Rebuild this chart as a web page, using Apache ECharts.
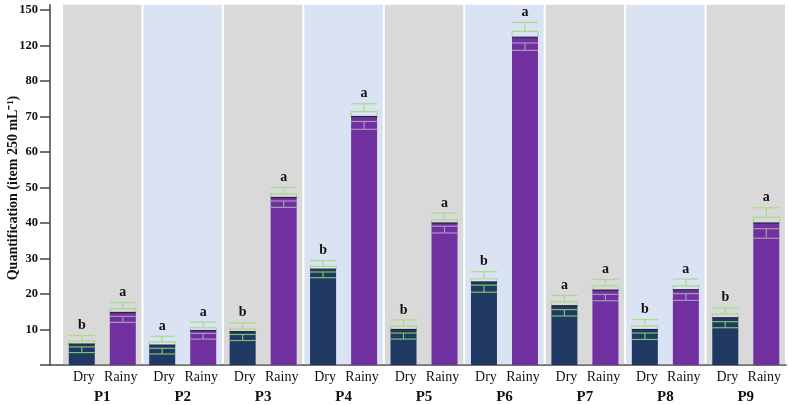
<!DOCTYPE html>
<html><head><meta charset="utf-8">
<script src="https://cdn.jsdelivr.net/npm/echarts@6/dist/echarts.min.js"></script>
<style>html,body{margin:0;padding:0;background:#fff}#c{width:789px;height:405px}</style>
</head><body><div id="c"></div>
<script>
const sites = ['P1','P2','P3','P4','P5','P6','P7','P8','P9'];
const seasons = ['Dry','Rainy'];
const dryMean  = [5.9, 5.6, 9.4, 27.0, 10.0, 23.4, 16.7, 10.0, 13.3];
const drySE    = [0.8, 0.9, 0.8, 0.8, 1.0, 0.9, 1.1, 1.0, 1.1];
const drySD    = [2.4, 2.5, 2.5, 2.4, 2.7, 2.9, 2.9, 2.8, 2.8];
const rainyMean= [14.8, 9.7, 47.2, 70.0, 40.0, 127.0, 21.1, 21.2, 40.0];
const rainySE  = [1.1, 0.8, 1.0, 1.4, 0.9, 4.9, 1.2, 1.1, 1.6];
const rainySD  = [2.8, 2.4, 2.8, 3.6, 2.8, 12.5, 3.0, 3.0, 4.3];
const dryLetters   = ['b','a','b','b','b','b','a','b','b'];
const rainyLetters = ['a','a','a','a','a','a','a','a','a'];
const yTickValues = [0,10,20,30,40,50,60,70,80,120,150];
const yTitle = 'Quantification (item 250 mL\u207B\u00B9)';

// broken (piecewise) y-axis: each tick label occupies one equal step
function toAxis(v){
  for (let k = 1; k < yTickValues.length; k++){
    const a = yTickValues[k-1], b = yTickValues[k];
    if (v <= b || k === yTickValues.length-1) return (k-1) + (v - a)/(b - a);
  }
}
const tickPos = yTickValues.map(toAxis);

const FONT = '"Liberation Serif","Times New Roman",serif';
const bandColors = ['#d9d9d9','#dae3f3'];

function makeData(mean, se, sd, letters){
  return mean.map((m,i)=>[i, toAxis(m), toAxis(m-se[i]), toAxis(m+se[i]), toAxis(m-sd[i]), toAxis(m+sd[i]), letters[i]]);
}

function barRender(offsetFrac, fill, lowColor){
  return function(params, api){
    const i = api.value(0);
    const bw = api.size([1,0])[0];
    const cx = api.coord([i,0])[0] + offsetFrac*bw;
    const w = 26;
    const x0 = cx - w/2;
    const y0 = api.coord([i,0])[1];
    const ym = api.coord([i,api.value(1)])[1];
    const yl = api.coord([i,api.value(2)])[1];
    const yh = api.coord([i,api.value(3)])[1];
    const ysl = api.coord([i,api.value(4)])[1];
    const ysh = api.coord([i,api.value(5)])[1];
    const green = '#a6dc88';
    const ls = (c)=>({stroke:c, lineWidth:1.2, fill:null});
    return {type:'group', children:[
      {type:'rect', shape:{x:x0, y:ym, width:w, height:y0-ym}, style:{fill:fill}},
      {type:'polyline', shape:{points:[[x0,ym],[x0,yh],[x0+w,yh],[x0+w,ym]]}, style:ls(green)},
      {type:'line', shape:{x1:cx, y1:yh, x2:cx, y2:ysh}, style:ls(green)},
      {type:'line', shape:{x1:x0, y1:ysh, x2:x0+w, y2:ysh}, style:ls(green)},
      {type:'line', shape:{x1:x0, y1:ym, x2:x0+w, y2:ym}, style:{stroke:'#2b2240', lineWidth:1.2}},
      {type:'line', shape:{x1:x0, y1:yl, x2:x0+w, y2:yl}, style:ls(lowColor)},
      {type:'line', shape:{x1:cx, y1:yl, x2:cx, y2:ysl}, style:ls(lowColor)},
      {type:'line', shape:{x1:x0, y1:ysl, x2:x0+w, y2:ysl}, style:ls(lowColor)},
      {type:'text', style:{x:cx, y:ysh-3, text:api.value(6), align:'center', verticalAlign:'bottom',
        fontFamily:FONT, fontWeight:'bold', fontSize:14, fill:'#111'}}
    ]};
  };
}

const chart = echarts.init(document.getElementById('c'));
chart.setOption({
  animation:false,
  grid:{left:50, right:3, top:4.7, bottom:40, containLabel:false, outerBoundsMode:'none'},
  graphic:[{type:'text', x:13, y:188, rotation:Math.PI/2,
    style:{text:yTitle, align:'center', verticalAlign:'middle', fontFamily:FONT, fontWeight:'bold', fontSize:14, fill:'#111'}}],
  xAxis:{type:'value', min:-0.65, max:8.5, splitLine:{show:false},
    axisLine:{show:true, onZero:false, lineStyle:{color:'#444', width:1.5}},
    axisTick:{show:false},
    axisLabel:{customValues:sites.map((s,i)=>i), margin:3, showMinLabel:true, showMaxLabel:true, hideOverlap:false,
      formatter:(v)=>'{d|'+seasons[0]+'}{r|'+seasons[1]+'}\n{p|'+sites[Math.round(v)]+'}',
      rich:{d:{width:37, align:'center', fontFamily:FONT, fontSize:14, color:'#111', lineHeight:18},
            r:{width:37, align:'center', fontFamily:FONT, fontSize:14, color:'#111', lineHeight:18},
            p:{fontFamily:FONT, fontSize:15, fontWeight:'bold', color:'#111', lineHeight:22}}}},
  yAxis:{type:'value', min:0, max:10.15, splitLine:{show:false},
    axisLine:{show:true, onZero:false, lineStyle:{color:'#444', width:1.5}},
    axisTick:{show:true, length:10, customValues:tickPos, lineStyle:{color:'#444', width:1.5}},
    axisLabel:{customValues:tickPos.slice(1), margin:12, fontFamily:FONT, fontWeight:'bold', fontSize:12.5, color:'#111',
      formatter:(v)=>{ const k = tickPos.findIndex(p=>Math.abs(p-v)<1e-6); return k>=0 ? String(yTickValues[k]) : ''; }}},
  series:[
    {type:'custom', silent:true, clip:false, data:sites.map((s,i)=>[i]), z:1,
      renderItem:(params, api)=>{
        const i = api.value(0);
        const p0 = api.coord([i-0.5, 10.15]);
        const p1 = api.coord([i+0.5, 0]);
        return {type:'rect', shape:{x:p0[0]+1, y:p0[1], width:p1[0]-p0[0]-2, height:p1[1]-p0[1]-0.75},
          style:{fill:bandColors[i%2]}};
      }},
    {type:'custom', name:'Dry', clip:false, z:3, data:makeData(dryMean, drySE, drySD, dryLetters),
      renderItem:barRender(-0.255, '#1f3864', '#7cc46a')},
    {type:'custom', name:'Rainy', clip:false, z:3, data:makeData(rainyMean, rainySE, rainySD, rainyLetters),
      renderItem:barRender(0.255, '#7030a0', '#a998b8')}
  ]
});
</script></body></html>
